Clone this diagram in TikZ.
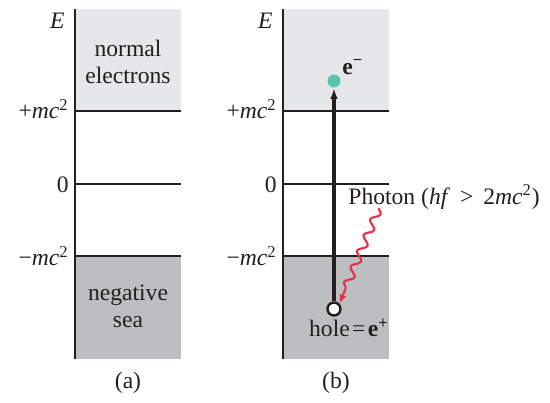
\documentclass[tikz,border=0pt]{standalone}
\usepackage{fontspec}
\setmainfont{Liberation Serif}
\usetikzlibrary{arrows.meta,positioning,decorations.pathmorphing}
\definecolor{upper}{HTML}{E6E7E8}
\definecolor{sea}{HTML}{BDBEC0}
\definecolor{ink}{HTML}{231F20}
\definecolor{electron}{HTML}{5BC3A8}
\definecolor{photon}{HTML}{E5304B}
\newcommand{\mcsq}{\textit{mc}\textsuperscript{2}}
\tikzset{
  >=Latex,
  every node/.style={font=\fontsize{11.8}{13.5}\selectfont,text=ink},
  upperfill/.style={fill=upper,draw=none},
  seafill/.style={fill=sea,draw=none},
  axisline/.style={draw=ink,line width=1.3pt},
  levelline/.style={draw=ink,line width=0.85pt},
  lbl/.style={anchor=east,inner sep=0pt},
  regiontext/.style={align=center,inner sep=0pt},
  panelcap/.style={inner sep=0pt},
  eldot/.style={circle,fill=electron,minimum size=6.5pt,inner sep=0pt},
  holedot/.style={circle,draw=ink,fill=white,line width=1.2pt,minimum size=6.5pt,inner sep=0pt},
  pairarrow/.style={-{Latex[length=5.5pt,width=3.8pt]},draw=ink,line width=1.6pt},
  photonarr/.style={-{Latex[length=4.5pt,width=3.6pt]},draw=photon,line width=1.05pt,
    decorate,decoration={snake,amplitude=2pt,segment length=8.5pt,post length=5pt}},
}
\begin{document}
\begin{tikzpicture}[x=0.5pt,y=-0.5pt]
\useasboundingbox (0,0) rectangle (550,402);
% two energy-level panels
\foreach \px/\tag in {75/a,283/b}{
  \fill[upperfill] (\px,9) rectangle (\px+106,111);
  \fill[seafill] (\px,256) rectangle (\px+106,359);
  \draw[levelline] (\px,111) -- (\px+106,111);
  \draw[levelline] (\px,184) -- (\px+106,184);
  \draw[levelline] (\px,256) -- (\px+106,256);
  \draw[axisline] (\px,9) -- (\px,359);
  \node[lbl] at (\px-10,21) {\textit{E}};
  \node[lbl] at (\px-6,109) {+\mcsq};
  \node[lbl] at (\px-6,185) {0};
  \node[lbl] at (\px-6,256) {\textminus\mcsq};
  \node[panelcap] at (\px+53,383) {(\tag)};
}
\node[regiontext] (normal) at (128,62) {normal\\electrons};
\node[regiontext] (negsea) at (128,306) {negative\\sea};
% pair creation
\node[eldot] (elec) at (334,81) {};
\node[anchor=south west,inner sep=0pt] (elabel) at (342,75) {\textbf{e}\textsuperscript{\textbf{\textminus}}};
\node[holedot] (hole) at (334,309) {};
\node[inner sep=0pt] (holelabel) at (349,328) {hole\kern1.2pt=\kern1.2pt\textbf{e}\textsuperscript{\textbf{+}}};
\node[anchor=west,inner sep=0pt] (photonlabel) at (348,197) {Photon (\textit{hf}\hspace{0.42em}>\hspace{0.42em}2\mcsq)};
\coordinate (pstart) at (379,208);
\draw[pairarrow] (hole) -- (elec);
\draw[photonarr] (pstart) -- (hole.north east);
\end{tikzpicture}
\end{document}
